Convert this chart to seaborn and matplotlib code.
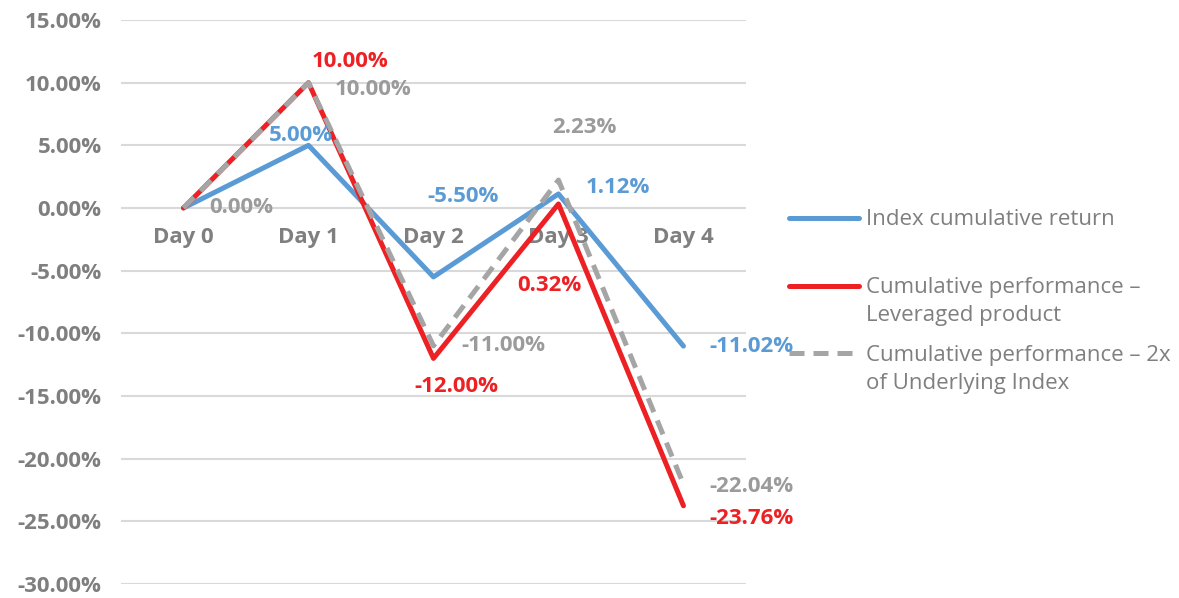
import numpy as np
import pandas as pd
import matplotlib
matplotlib.use("Agg")
import matplotlib.pyplot as plt
import seaborn as sns

# === DATA ===
days = ["Day 0", "Day 1", "Day 2", "Day 3", "Day 4"]
index_ret = [0.00, 5.00, -5.50, 1.12, -11.02]
leveraged = [0.00, 10.00, -12.00, 0.32, -23.76]
twice_index = [0.00, 10.00, -11.00, 2.23, -22.04]

series_names = [
    "Index cumulative return",
    "Cumulative performance –\nLeveraged product",
    "Cumulative performance – 2x\nof Underlying Index",
]

# label offsets in pixels (dx, dy) for each point, None = no label
offs_index = [None, (-8, 10), (30, 80), (59, 6), (68, 0)]
offs_lev = [None, (42, 21), (23, -28), (-9, -82), (68, -13)]
offs_twice = [(58, 0), (65, -7), (70, 0), (26, 53), (68, -2)]

BLUE = "#5B9BD5"
RED = "#ED2024"
GREY = "#A5A5A5"
TXT = "#7F7F7F"
FS = 16
LSP = 1.45

df = pd.DataFrame({"day": days, "index": index_ret, "lev": leveraged, "twice": twice_index})

sns.set_style("white")
plt.rcParams["font.family"] = ["Open Sans", "DejaVu Sans"]

fig = plt.figure(figsize=(11.79, 5.98), dpi=100)
ax = fig.add_axes([0.1026, 0.0234, 0.5301, 0.9432])

sns.lineplot(data=df, x="day", y="index", ax=ax, color=BLUE, lw=3.6,
             label=series_names[0], sort=False)
sns.lineplot(data=df, x="day", y="lev", ax=ax, color=RED, lw=3.6,
             label=series_names[1], sort=False)
sns.lineplot(data=df, x="day", y="twice", ax=ax, color=GREY, lw=3.6,
             label=series_names[2], sort=False, dashes=False)
ax.lines[-1].set_dashes((3, 1.8))

# === AXES ===
ax.set_ylim(-30, 15)
ax.set_xlim(-0.5, len(days) - 0.5)
ax.set_yticks(np.arange(-30, 16, 5))
ax.set_yticklabels([f"{v:.2f}%" for v in np.arange(-30, 16, 5)])
ax.grid(axis="y", color="#D9D9D9", lw=1.5)
ax.set_axisbelow(True)
for s in ["top", "right", "left"]:
    ax.spines[s].set_visible(False)
ax.spines["bottom"].set_position(("data", 0))
ax.spines["bottom"].set_visible(False)
ax.tick_params(axis="y", length=0, pad=14, labelsize=FS, labelcolor=TXT)
ax.tick_params(axis="x", length=0, pad=14, labelsize=FS, labelcolor=TXT)
for t in ax.get_xticklabels() + ax.get_yticklabels():
    t.set_fontweight("bold")
ax.set_xlabel("")
ax.set_ylabel("")

# === DATA LABELS ===
for vals, offs, col in [(index_ret, offs_index, BLUE), (leveraged, offs_lev, RED),
                        (twice_index, offs_twice, "#9B9B9B")]:
    for i, (v, o) in enumerate(zip(vals, offs)):
        if o is None:
            continue
        ax.annotate(f"{v:.2f}%", (i, v), xytext=o, textcoords="offset pixels",
                    ha="center", va="center", fontsize=FS, fontweight="bold", color=col)

# === LEGEND ===
ax.get_legend().remove()
handles, labels = ax.get_legend_handles_labels()
labels[0] = labels[0] + "\n"
leg = fig.legend(handles, labels, loc="upper left", bbox_to_anchor=(789 / 1179, 1 - 209 / 598),
                 frameon=False, fontsize=FS, handlelength=3.15, handletextpad=0.31,
                 labelspacing=0.84, borderpad=0, borderaxespad=0)
for t in leg.get_texts():
    t.set_color(TXT)
    t.set_linespacing(LSP)
# put handles next to the first line of each label
for ln in leg.get_lines():
    ln.set_ydata(np.asarray(ln.get_ydata()) + FS * LSP / 2)

fig.savefig("out.png", dpi=100)
